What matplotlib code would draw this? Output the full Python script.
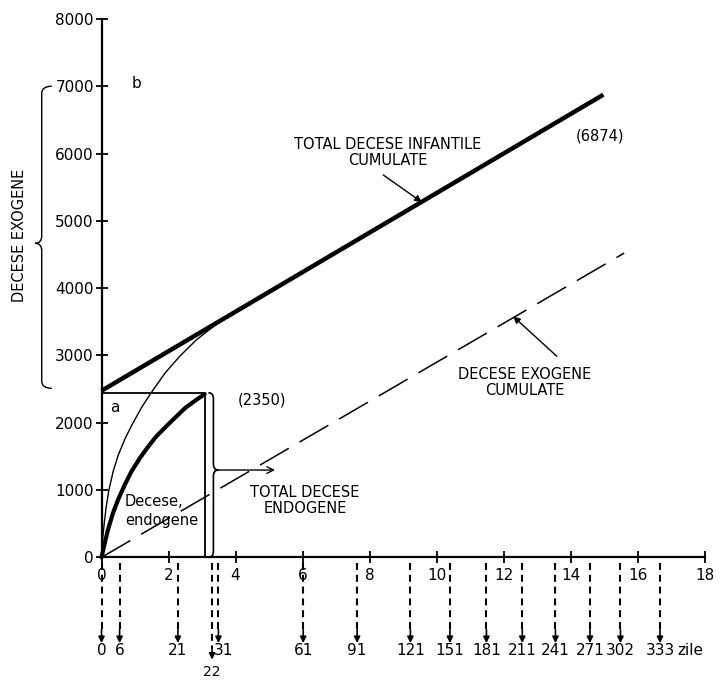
import matplotlib
matplotlib.use('Agg')
import matplotlib.pyplot as plt
from matplotlib.path import Path
from matplotlib.patches import PathPatch

plt.rcParams['font.family'] = ['DejaVu Sans']
plt.rcParams['lines.scale_dashes'] = False

# ---------------- data ----------------
total_x = [0.0, 14.98]
total_y = [2475, 6874]

exo_x = [0.0, 15.6]
exo_y = [0, 4520]

endo_x = [0.0, 0.095, 0.19, 0.34, 0.49, 0.69, 0.89, 1.14, 1.39, 1.64, 2.04, 2.5, 2.8, 3.08]
endo_y = [0, 208, 406, 654, 851, 1074, 1272, 1471, 1643, 1800, 2000, 2220, 2330, 2425]

sum_x = [0.0, 0.03, 0.08, 0.14, 0.22, 0.35, 0.5, 0.7, 0.9, 1.2, 1.53, 1.9, 2.34, 2.84, 3.24, 3.6]
sum_y = [0, 250, 500, 750, 1000, 1280, 1520, 1760, 1960, 2230, 2480, 2740, 2990, 3235, 3390, 3530]

box_x = 3.09
box_y = 2445

x_ticks = [0, 2, 4, 6, 8, 10, 12, 14, 16, 18]
y_ticks = [0, 1000, 2000, 3000, 4000, 5000, 6000, 7000, 8000]

day_labels = ['0', '6', '21', '22', '31', '61', '91', '121', '151', '181',
              '211', '241', '271', '302', '333']
day_pos = [0.0, 0.54, 2.28, 3.30, 3.49, 6.02, 7.63, 9.22, 10.40, 11.49,
           12.56, 13.55, 14.58, 15.49, 16.67]

# ---------------- figure ----------------
fig = plt.figure(figsize=(7.22, 6.8), dpi=100)
ax = fig.add_axes([0.1406, 0.1804, 0.8352, 0.7918])
ax.set_xlim(0, 18)
ax.set_ylim(0, 8000)

for s in ('top', 'right'):
    ax.spines[s].set_visible(False)
ax.spines['left'].set_linewidth(1.6)
ax.spines['bottom'].set_linewidth(1.6)

ax.set_xticks(x_ticks)
ax.set_xticklabels([str(v) for v in x_ticks])
ax.set_yticks(y_ticks)
ax.set_yticklabels([str(v) for v in y_ticks])
ax.tick_params(axis='both', direction='inout', length=9, width=1.3,
               labelsize=11, colors='black')
ax.tick_params(axis='x', pad=3)
ax.tick_params(axis='y', pad=1)

# curves / lines
ax.plot(total_x, total_y, color='black', lw=3.2, solid_capstyle='butt', clip_on=False)
ax.plot(exo_x, exo_y, color='black', lw=1.1, ls=(0, (24, 9)), clip_on=False)
ax.plot(sum_x, sum_y, color='black', lw=1.0, clip_on=False)
ax.plot(endo_x, endo_y, color='black', lw=3.0, solid_capstyle='round', clip_on=False)

# box "a"
ax.plot([0, box_x, box_x], [box_y, box_y, 0], color='black', lw=1.3, clip_on=False)


def brace(x, y0, y1, ytip, end_dx, tip_dx, ry, lw=1.0):
    verts = [(x + end_dx, y1), (x, y1), (x, y1 - ry),
             (x, ytip + ry), (x, ytip), (x + tip_dx, ytip),
             (x, ytip), (x, ytip - ry),
             (x, y0 + ry), (x, y0), (x + end_dx, y0)]
    codes = [Path.MOVETO, Path.CURVE3, Path.CURVE3,
             Path.LINETO, Path.CURVE3, Path.CURVE3,
             Path.CURVE3, Path.CURVE3,
             Path.LINETO, Path.CURVE3, Path.CURVE3]
    ax.add_patch(PathPatch(Path(verts, codes), fill=False, lw=lw,
                           edgecolor='black', clip_on=False))


# right brace for endogenous total
brace(3.34, 0, box_y, 1297, -0.15, 0.15, 90, lw=1.2)
ax.annotate('', xy=(5.18, 1297), xytext=(3.48, 1297),
            arrowprops=dict(arrowstyle='->', lw=1.0, color='black',
                            shrinkA=0, shrinkB=0, mutation_scale=12))
# left brace for exogenous deaths
brace(-1.785, 2511, 7000, 4666, 0.3, -0.2, 110, lw=1.0)
fig.text(20 / 722, 1 - 235 / 680, 'DECESE EXOGENE', rotation=90,
         ha='center', va='center', fontsize=10.5)

# text labels
ax.text(1.05, 7043, 'b', fontsize=11, ha='center', va='center')
ax.text(0.40, 2229, 'a', fontsize=11, ha='center', va='center')
ax.text(4.78, 2337, '(2350)', fontsize=10.5, ha='center', va='center')
ax.text(14.88, 6263, '(6874)', fontsize=10.5, ha='center', va='center')
ax.text(8.55, 6010, 'TOTAL DECESE INFANTILE\nCUMULATE', fontsize=10.5,
        ha='center', va='center', linespacing=1.1)
ax.annotate('', xy=(9.56, 5278), xytext=(8.41, 5681),
            arrowprops=dict(arrowstyle='-|>', lw=1.0, color='black',
                            shrinkA=0, shrinkB=0, mutation_scale=10))
ax.text(12.64, 2600, 'DECESE EXOGENE\nCUMULATE', fontsize=10.5,
        ha='center', va='center', linespacing=1.1)
ax.annotate('', xy=(12.29, 3579), xytext=(13.59, 2988),
            arrowprops=dict(arrowstyle='-|>', lw=1.0, color='black',
                            shrinkA=0, shrinkB=0, mutation_scale=10))
ax.text(1.55, 826, 'Decese,', fontsize=10.5, ha='center', va='center')
ax.text(1.80, 554, 'endogene', fontsize=10.5, ha='center', va='center')
ax.text(6.07, 840, 'TOTAL DECESE\nENDOGENE', fontsize=10.5,
        ha='center', va='center', linespacing=1.1)

# day arrows under the axis
for lab, p in zip(day_labels, day_pos):
    tip = -1520 if lab == '22' else -1274
    ax.plot([p, p], [-90, tip + 170], color='black', lw=1.5,
            ls=(0, (5, 3.5)), clip_on=False)
    ax.annotate('', xy=(p, tip), xytext=(p, tip + 200),
                annotation_clip=False,
                arrowprops=dict(arrowstyle='-|>', lw=1.2, color='black',
                                shrinkA=0, shrinkB=0, mutation_scale=9))
    if lab == '22':
        ax.text(p, -1815, lab, fontsize=10, ha='center', va='bottom', clip_on=False)
    else:
        dx = 0.14 if lab == '31' else 0.0
        ax.text(p + dx, -1390, lab, fontsize=11, ha='center', va='center', clip_on=False)
ax.text(17.57, -1390, 'zile', fontsize=11, ha='center', va='center', clip_on=False)

fig.savefig('out.png', dpi=100)
